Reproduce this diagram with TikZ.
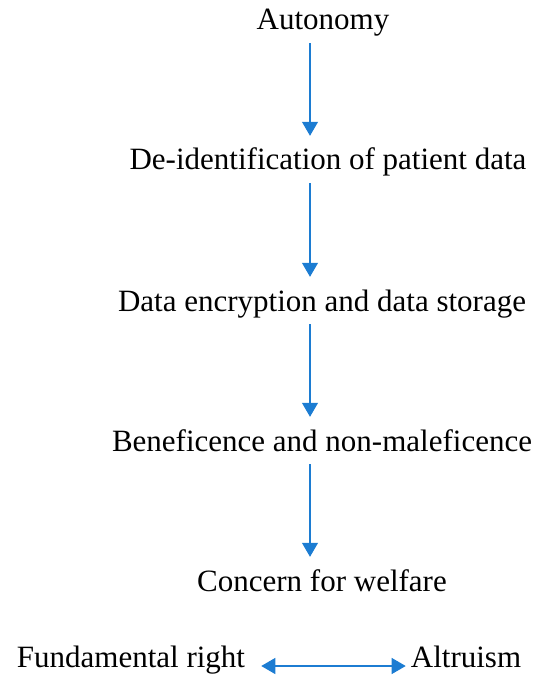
\documentclass[tikz,border=0pt]{standalone}
\usepackage{fontspec}
\setmainfont{Liberation Serif}
\usetikzlibrary{arrows.meta}
\definecolor{arrblue}{RGB}{28,124,210}
\begin{document}
\begin{tikzpicture}[x=1pt,y=1pt,
  lbl/.style={inner sep=0pt, anchor=base, font=\fontsize{31}{36}\selectfont, text height=22pt, text depth=7pt},
  arr/.style={draw=arrblue, line width=1.1pt, -{Triangle[width=16pt,length=14pt]}, shorten <=6pt, shorten >=12pt},
  darr/.style={draw=arrblue, line width=1.1pt, {Triangle[width=16pt,length=14pt]}-{Triangle[width=16pt,length=14pt]}}]
\useasboundingbox (0,0) rectangle (544,-676);
\coordinate (ax) at (310,0);
\node[lbl] (a) at (323,-30) {Autonomy};
\node[lbl] (b) at (328,-170) {De-identification of patient data};
\node[lbl] (c) at (322,-311) {Data encryption and data storage};
\node[lbl] (d) at (322,-451) {Beneficence and non-maleficence};
\node[lbl] (e) at (322,-591) {Concern for welfare};
\node[lbl] (f) at (131,-667) {Fundamental right};
\node[lbl] (g) at (466,-667) {Altruism};
\draw[arr] (a.south -| ax) -- (b.north -| ax);
\draw[arr] (b.south -| ax) -- (c.north -| ax);
\draw[arr] (c.south -| ax) -- (d.north -| ax);
\draw[arr] (d.south -| ax) -- (e.north -| ax);
\draw[darr] ([xshift=16pt,yshift=1pt]f.base east) -- ([xshift=-5pt,yshift=1pt]g.base west);
\end{tikzpicture}
\end{document}
